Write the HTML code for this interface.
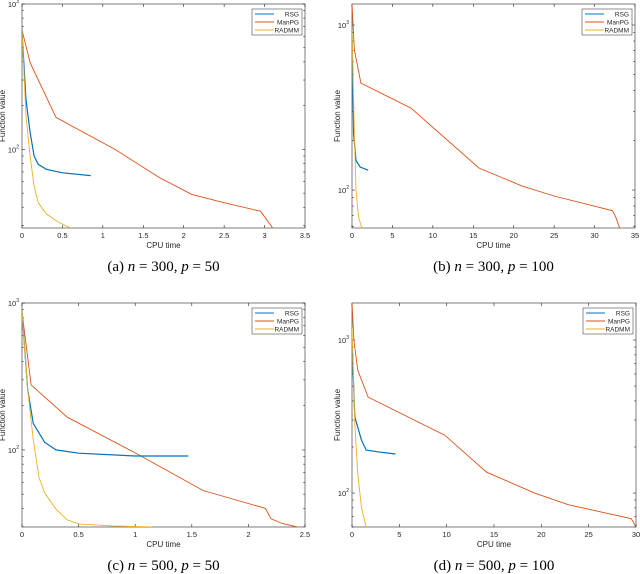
<!DOCTYPE html>
<html><head><meta charset="utf-8"><style>
html,body{margin:0;padding:0;background:#fff;}
svg{display:block;font-family:"Liberation Sans",sans-serif;}
.cap{font-family:"Liberation Serif",serif;font-size:15px;}
</style></head><body>
<svg id="fig" width="640" height="574" viewBox="0 0 640 574"></svg>
<script>
const panelLetters=["a","b","c","d"];
const panelN=[300,300,500,500];
const panelP=[50,100,50,100];
const xMaxes=[3.5,35,2.5,30];
const xTickSteps=[0.5,5,0.5,5];
const yMins=[28.8,58.9,29.9,60];
const yMaxes=[1000,1341,1000,1746];
const seriesNames=["RSG","ManPG","RADMM"];
const seriesColors=["#0072BD","#D95319","#EDB120"];
// data per panel: [x array, y array] for RSG, ManPG, RADMM
const rsgX=[[0,0.05,0.1,0.15,0.2,0.3,0.5,0.85],[0,0.2,0.5,1,2],[0,0.05,0.1,0.2,0.3,0.5,1,1.47],[0,0.3,1,1.5,3,4.6]];
const rsgY=[[640,220,131,90,79,73,69,66],[900,221,151,138,132],[870,257,151,113,100,95,91,91],[1000,314,222,191,185,180]];
const manX=[[0,0.1,0.42,1.15,1.7,2.1,2.5,2.95,3.1],[0,0.3,1.1,7.3,15.7,21,25,32.2,32.6,33.1],[0,0.08,0.4,1,1.6,2.15,2.2,2.3,2.43],[0,0.2,0.6,1.7,9.8,14.2,19.3,22.8,29.5,30]];
const manY=[[661,395,166,100,64,49,43,37.6,28.8],[1340,705,445,314,136,106,92,75,69,59],[870,277,167,95.5,53,40,34,31.6,29.9],[1746,1000,637,424,239,137,100,84,68,60]];
const radX=[[0,0.05,0.1,0.15,0.2,0.3,0.45,0.6],[0,0.3,0.5,0.8,1.2],[0,0.05,0.1,0.15,0.2,0.3,0.4,0.5,0.8,1.15],[0,0.3,0.6,1,1.5]];
const radY=[[640,170,90,56,43,36,31.6,28.8],[900,220,100,69,59],[870,257,117,65,51,39.6,33.4,31.4,30.4,29.9],[1200,286,135,80,60]];

const boxes=[{l:22,r:305,t:4,b:228},{l:352,r:635,t:4,b:228},{l:22,r:305,t:303,b:527},{l:352,r:636,t:303,b:527}];
const NS="http://www.w3.org/2000/svg";
const svg=document.getElementById('fig');
function mk(tag,attrs,parent){const e=document.createElementNS(NS,tag);for(const k in attrs)e.setAttribute(k,attrs[k]);(parent||svg).appendChild(e);return e;}
function fmt(v){return (Math.round(v*100)/100).toString();}
for(let p=0;p<4;p++){
  const B=boxes[p];
  const g=mk('g',{});
  
  
  const lmin=Math.log10(yMins[p]),lmax=Math.log10(yMaxes[p]);
  const sx=v=>B.l+(v/xMaxes[p])*(B.r-B.l);
  const sy=v=>B.b-(Math.log10(v)-lmin)/(lmax-lmin)*(B.b-B.t);
  const cid='clip'+p;
  const cp=mk('clipPath',{id:cid},g);mk('rect',{x:B.l,y:B.t,width:B.r-B.l,height:B.b-B.t},cp);
  const frame=mk('rect',{x:B.l,y:B.t,width:B.r-B.l,height:B.b-B.t,fill:'#fff',stroke:'#262626','stroke-width':0.6},g);
  
  
  // x ticks
  const nT=Math.round(xMaxes[p]/xTickSteps[p]);
  for(let i=0;i<=nT;i++){
    const v=i*xTickSteps[p],x=sx(v);
    mk('line',{x1:x,x2:x,y1:B.b,y2:B.b-3,stroke:'#262626','stroke-width':0.6},g);
    mk('line',{x1:x,x2:x,y1:B.t,y2:B.t+3,stroke:'#262626','stroke-width':0.6},g);
    const t=mk('text',{x:x,y:B.b+10,'font-size':7.5,'text-anchor':'middle',fill:'#262626'},g);
    t.textContent=fmt(v);
    
    
  }
  // y ticks (log)
  for(let d=1;d<=3;d++){for(let m=1;m<=9;m++){
    const v=m*Math.pow(10,d);
    if(v<yMins[p]-1e-6||v>yMaxes[p]+1e-6)continue;
    const y=sy(v),len=m===1?3:1.8;
    mk('line',{x1:B.l,x2:B.l+len,y1:y,y2:y,stroke:'#262626','stroke-width':0.6},g);
    mk('line',{x1:B.r,x2:B.r-len,y1:y,y2:y,stroke:'#262626','stroke-width':0.6},g);
    if(m===1){
      const t=mk('text',{x:B.l-3,y:y+3,'font-size':7.5,'text-anchor':'end',fill:'#262626'},g);
      t.textContent='10';
      
      
      const s=mk('tspan',{'font-size':5,dy:-4},t);s.textContent=String(d);
    }
  }}
  // series
  const xs=[rsgX[p],manX[p],radX[p]],ys=[rsgY[p],manY[p],radY[p]];
  const order=[1,0,2];
  for(const s of order){
    const pts=xs[s].map((xv,i)=>sx(xv).toFixed(1)+','+sy(ys[s][i]).toFixed(1)).join(' ');
    const pl=mk('polyline',{points:pts,fill:'none',stroke:seriesColors[s],'stroke-width':s===0?1.2:0.9,'clip-path':'url(#'+cid+')'},g);
    
    
  }
  // legend
  const lx=B.r-53,ly=B.t+5;
  const lg=mk('g',{},g);
  
  
  mk('rect',{x:lx,y:ly,width:50,height:26,fill:'#fff',stroke:'#262626','stroke-width':0.5},lg);
  for(let s=0;s<3;s++){
    const yy=ly+5+s*8;
    mk('line',{x1:lx+3,x2:lx+22,y1:yy,y2:yy,stroke:seriesColors[s],'stroke-width':1},lg);
    const t=mk('text',{x:lx+47,y:yy+2.5,'font-size':6.5,'text-anchor':'end',fill:'#262626'},lg);
    t.textContent=seriesNames[s];
    
    
  }
  // axis titles
  const xl=mk('text',{x:(B.l+B.r)/2,y:B.b+20,'font-size':8,'text-anchor':'middle',fill:'#262626'},g);
  xl.textContent='CPU time';
  
  
  const yx=B.l-(p%2===0?17:12),ycy=(B.t+B.b)/2;
  const yl=mk('text',{x:yx,y:ycy,'font-size':8,'text-anchor':'middle',fill:'#262626',transform:'rotate(-90 '+yx+' '+ycy+')'},g);
  yl.textContent='Function value';
  
  
  // caption
  const cap=mk('text',{x:(B.l+B.r)/2,y:B.b+43,'text-anchor':'middle',fill:'#000','class':'cap'},g);
  
  
  cap.innerHTML='('+panelLetters[p]+') <tspan font-style="italic">n</tspan> = '+panelN[p]+', <tspan font-style="italic">p</tspan> = '+panelP[p];
}
</script>
</body></html>
